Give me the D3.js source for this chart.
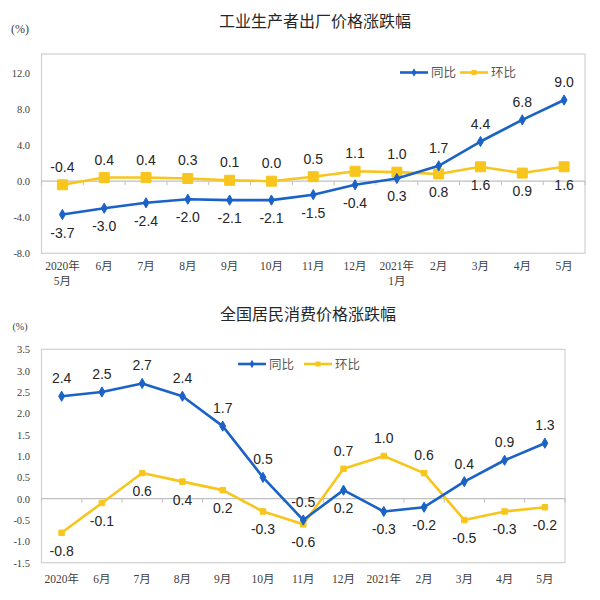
<!DOCTYPE html>
<html><head><meta charset="utf-8">
<script src="https://cdn.jsdelivr.net/npm/d3@7"></script>
<style>
html,body{margin:0;padding:0;background:#fff;}
svg{display:block;}
</style>
</head><body>
<svg id="c" width="600" height="600"></svg>
<script>
// ---- data ----
const ppiMonths = [["2020年","5月"],["6月"],["7月"],["8月"],["9月"],["10月"],["11月"],["12月"],["2021年","1月"],["2月"],["3月"],["4月"],["5月"]];
const ppiYoY = [-3.7,-3.0,-2.4,-2.0,-2.1,-2.1,-1.5,-0.4,0.3,1.7,4.4,6.8,9.0];
const ppiMoM = [-0.4,0.4,0.4,0.3,0.1,0.0,0.5,1.1,1.0,0.8,1.6,0.9,1.6];
const ppiTicks = [-8,-4,0,4,8,12];

const cpiMonths = [["2020年"],["6月"],["7月"],["8月"],["9月"],["10月"],["11月"],["12月"],["2021年"],["2月"],["3月"],["4月"],["5月"]];
const cpiYoY = [2.4,2.5,2.7,2.4,1.7,0.5,-0.5,0.2,-0.3,-0.2,0.4,0.9,1.3];
const cpiMoM = [-0.8,-0.1,0.6,0.4,0.2,-0.3,-0.6,0.7,1.0,0.6,-0.5,-0.3,-0.2];
const cpiTicks = [-1.5,-1.0,-0.5,0.0,0.5,1.0,1.5,2.0,2.5,3.0,3.5];

const seriesNames = ["同比","环比"];
const ppiTitle = "工业生产者出厂价格涨跌幅";
const cpiTitle = "全国居民消费价格涨跌幅";
const unitLabel = "(%)";

// ---- style ----
const BLUE = "#1b62c6", YELLOW = "#f8c51c";
const svg = d3.select("#c");
const CJK = "'Noto Sans CJK SC','Noto Sans',sans-serif";
const SERIF = "'Liberation Serif','Noto Sans CJK SC',serif";
const SANS = "'Liberation Sans',Arial,sans-serif";

function drawChart(o){
  const g = svg.append("g");
  // title
  g.append("text").attr("x", o.titleX).attr("y", o.titleY).attr("text-anchor","middle")
    .attr("font-family", CJK).attr("font-size", 16).attr("fill","#262626").text(o.title);
  g.append("text").attr("x", 20).attr("y", o.unitY).attr("text-anchor","middle")
    .attr("font-family", SERIF).attr("font-size", o.unitSize).attr("fill","#404040").text(unitLabel);

  const x = d3.scaleBand().domain(d3.range(o.months.length)).range([o.left, o.right]);
  const y = d3.scaleLinear().domain(o.domain).range([o.bottom, o.tickTop]);
  const cx = i => x(i) + x.bandwidth()/2;

  // box
  g.append("rect").attr("x", o.left).attr("y", o.boxTop).attr("width", o.right-o.left)
    .attr("height", o.bottom-o.boxTop).attr("fill","none").attr("stroke","#d0d0d0").attr("stroke-width",1.2);

  // y axis labels
  const yAxis = d3.axisLeft(y).tickValues(o.ticks).tickSize(0).tickPadding(0)
    .tickFormat(d3.format(".1f"));
  const ya = g.append("g").attr("transform", `translate(${o.labelRight},0)`).call(yAxis);
  ya.select(".domain").remove();
  ya.selectAll("text").attr("font-family", SERIF).attr("font-size", o.tickSize).attr("fill","#404040")
    .text(d => d3.format(".1f")(d).replace("−","-"));

  // zero line with category ticks
  const zy = y(0);
  g.append("line").attr("x1", o.left).attr("x2", o.right).attr("y1", zy).attr("y2", zy)
    .attr("stroke","#bfbfbf").attr("stroke-width",1.2);
  g.selectAll(".ct").data(d3.range(o.months.length+1)).join("line")
    .attr("x1", i => o.left + i*x.step()).attr("x2", i => o.left + i*x.step())
    .attr("y1", zy).attr("y2", zy+4).attr("stroke","#bfbfbf").attr("stroke-width",1);

  // x labels
  const xl = g.selectAll(".xl").data(o.months).join("text")
    .attr("x", (d,i) => cx(i)).attr("y", o.xLabelY).attr("text-anchor","middle")
    .attr("font-family", SERIF).attr("font-size", o.xSize).attr("fill","#404040");
  xl.each(function(d,i){
    const t = d3.select(this);
    d.forEach((s,k) => t.append("tspan").attr("x", cx(i)).attr("dy", k===0?0:15).text(s));
  });

  const line = d3.line().x((d,i)=>cx(i)).y(d=>y(d));
  // series
  const series = [{vals:o.yoy, color:BLUE, marker:"diamond", ms:o.diamondSize},
                  {vals:o.mom, color:YELLOW, marker:"square", ms:o.squareSize}];
  // draw yellow first then blue? draw in order: blue then yellow for top; order param
  o.order.forEach(k => {
    const s = series[k];
    g.append("path").datum(s.vals).attr("d", line).attr("fill","none")
      .attr("stroke", s.color).attr("stroke-width", 2.6).attr("stroke-linejoin","round");
    const sym = d3.symbol().type(s.marker==="diamond"?d3.symbolDiamond2:d3.symbolSquare2).size(s.ms);
    g.selectAll(null).data(s.vals).join("path")
      .attr("transform",(d,i)=>`translate(${cx(i)},${y(d)})${s.marker==="diamond"?"":""}`)
      .attr("d", d3.symbol().type(s.marker==="diamond"?d3.symbolDiamond:d3.symbolSquare).size(s.ms))
      .attr("fill", s.color).attr("stroke", s.color).attr("stroke-width",1);
  });

  // labels: higher series above, lower below
  const lab = (vals, other) => g.selectAll(null).data(vals).join("text")
    .attr("x",(d,i)=>cx(i))
    .attr("y",(d,i)=> y(d) + (d >= other[i] ? -o.labOff : o.labOff) + 5)
    .attr("text-anchor","middle").attr("font-family", SANS).attr("font-size", 14)
    .attr("fill","#262626").text(d => d3.format(".1f")(d).replace("−","-"));
  lab(o.yoy, o.mom);
  lab(o.mom, o.yoy);

  // legend
  const lg = g.append("g");
  [[BLUE,"diamond"],[YELLOW,"square"]].forEach(([c,m],k) => {
    const lx = o.legendX[k];
    lg.append("line").attr("x1", lx).attr("x2", lx+28).attr("y1", o.legendY).attr("y2", o.legendY)
      .attr("stroke", c).attr("stroke-width", 2.6);
    lg.append("path").attr("transform",`translate(${lx+14},${o.legendY})`)
      .attr("d", d3.symbol().type(m==="diamond"?d3.symbolDiamond:d3.symbolSquare).size(m==="diamond"?20:25)).attr("fill", c);
    lg.append("text").attr("x", lx+31).attr("y", o.legendY+4.5).attr("font-family", CJK)
      .attr("font-size", 12.5).attr("fill","#595959").text(seriesNames[k]);
  });
}

drawChart({
  title: ppiTitle, titleX: 315, titleY: 27, unitY: 33, unitSize: 12,
  months: ppiMonths, yoy: ppiYoY, mom: ppiMoM, ticks: ppiTicks,
  left: 41.5, right: 585, boxTop: 54, tickTop: 73, bottom: 253.3, domain: [-8, 12],
  labelRight: 30, tickSize: 10.5, xLabelY: 270, xSize: 11.5,
  diamondSize: 30, squareSize: 100, order: [1,0], labOff: 18,
  legendX: [400, 460], legendY: 72.5
});
drawChart({
  title: cpiTitle, titleX: 308, titleY: 320, unitY: 330, unitSize: 10,
  months: cpiMonths, yoy: cpiYoY, mom: cpiMoM, ticks: cpiTicks,
  left: 41.5, right: 565, boxTop: 349.3, tickTop: 349.3, bottom: 562.7, domain: [-1.5, 3.5],
  labelRight: 30, tickSize: 10.5, xLabelY: 583, xSize: 11.5,
  diamondSize: 30, squareSize: 30, order: [1,0], labOff: 18,
  legendX: [238, 304], legendY: 364
});
</script>
</body></html>
